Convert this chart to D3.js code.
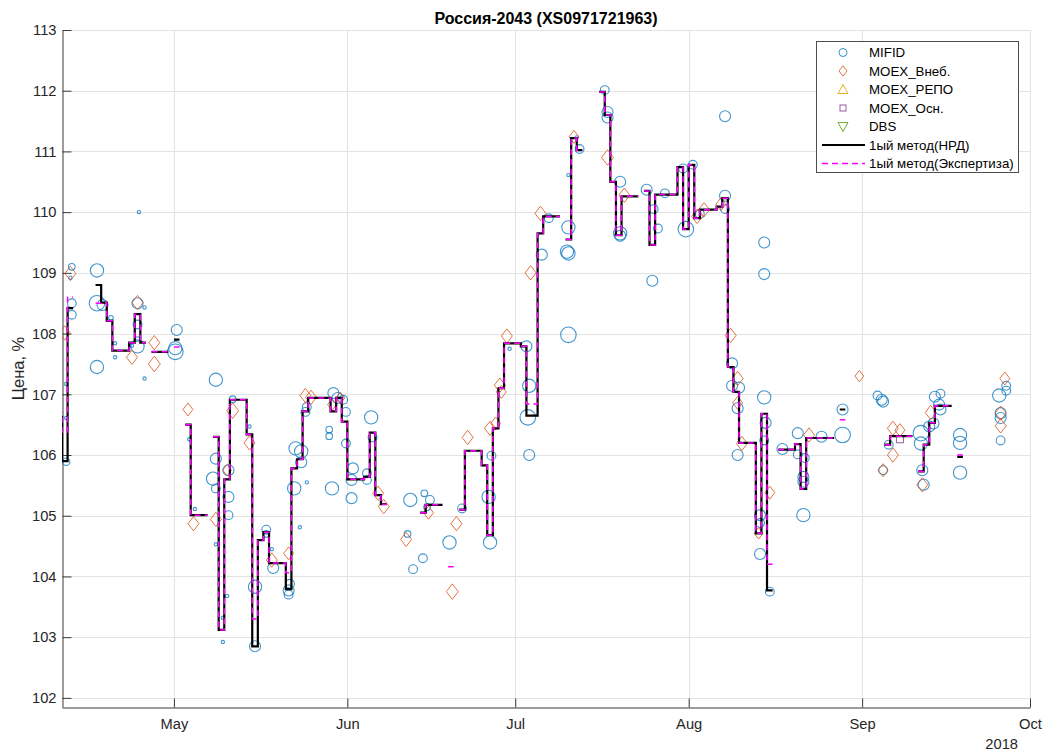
<!DOCTYPE html>
<html>
<head>
<meta charset="utf-8">
<script src="https://d3js.org/d3.v7.min.js"></script>
<style>
  body { margin: 0; background: #fff; }
  svg { font-family: "Liberation Sans", Arial, sans-serif; }
</style>
</head>
<body>
<div id="chart"></div>
<script>
// ---- data ----
var chartTitle = "Россия-2043 (XS0971721963)";
var yTicks = [102, 103, 104, 105, 106, 107, 108, 109, 110, 111, 112, 113];
var seriesNames = ["MIFID", "MOEX_Внеб.", "MOEX_РЕПО", "MOEX_Осн.", "DBS", "1ый метод(НРД)", "1ый метод(Экспертиза)"];

// MIFID trades: time, price, volume
var mifidDates = [
  "2018-04-12 18","2018-04-12 12","2018-04-12 18","2018-04-12 18","2018-04-11 18","2018-04-11 18","2018-04-11 18","2018-04-24 18",
  "2018-04-17 06","2018-04-17 06","2018-04-18 06","2018-04-17 06","2018-04-19 18","2018-04-20 12","2018-04-20 12","2018-04-24 12",
  "2018-04-24 12","2018-04-24 12","2018-04-25 18","2018-04-23 12","2018-04-25 18","2018-04-24 12","2018-05-01 12","2018-05-01 06",
  "2018-05-01 06","2018-05-08 12","2018-05-11 12","2018-05-03 18","2018-05-04 18","2018-05-08 12","2018-05-08 00","2018-05-08 12",
  "2018-05-10 18","2018-05-10 18","2018-05-10 18","2018-05-08 12","2018-05-10 12","2018-05-09 18","2018-05-09 18","2018-05-14 12",
  "2018-05-15 12","2018-05-15 12","2018-05-17 12","2018-05-17 12","2018-05-18 12","2018-05-18 18","2018-05-21 12","2018-05-21 12",
  "2018-05-21 18","2018-05-23 12","2018-05-22 18","2018-05-23 18","2018-05-22 12","2018-05-23 18","2018-05-24 12","2018-05-24 18",
  "2018-05-24 18","2018-05-28 18","2018-05-28 18","2018-05-29 06","2018-05-29 12","2018-05-30 06","2018-05-31 06","2018-05-31 18",
  "2018-05-31 18","2018-06-02 00","2018-06-01 18","2018-06-01 18","2018-06-04 12","2018-06-04 12","2018-06-05 06","2018-06-05 12",
  "2018-06-12 06","2018-06-14 18","2018-06-15 18","2018-06-15 06","2018-06-21 12","2018-06-11 18","2018-06-14 12","2018-06-12 18",
  "2018-06-19 06","2018-06-26 12","2018-06-26 06","2018-06-26 18","2018-06-30 00","2018-07-03 00","2018-07-03 12","2018-07-03 06",
  "2018-07-03 12","2018-07-10 12","2018-07-10 12","2018-07-10 06","2018-07-05 18","2018-07-25 12","2018-07-17 00","2018-07-17 12",
  "2018-07-17 12","2018-07-12 12","2018-07-12 00","2018-07-10 12","2018-07-07 00","2018-07-10 12","2018-07-19 18","2018-07-19 18",
  "2018-07-19 18","2018-07-24 12","2018-07-25 18","2018-07-26 12","2018-07-27 18","2018-07-31 00","2018-08-01 18","2018-07-31 12",
  "2018-08-07 12","2018-08-07 12","2018-08-07 12","2018-08-03 00","2018-08-14 12","2018-08-14 12","2018-08-08 18","2018-08-08 18",
  "2018-08-10 00","2018-08-09 18","2018-08-09 18","2018-08-14 12","2018-08-14 18","2018-08-14 12","2018-08-17 18","2018-08-20 12",
  "2018-08-20 12","2018-08-21 18","2018-08-21 12","2018-08-21 12","2018-08-24 18","2018-08-28 12","2018-08-28 12","2018-09-03 18",
  "2018-09-04 12","2018-09-04 18","2018-09-05 18","2018-09-04 18","2018-09-11 12","2018-09-11 12","2018-09-13 00","2018-09-11 18",
  "2018-09-12 00","2018-09-14 00","2018-09-15 00","2018-09-14 18","2018-09-15 00","2018-09-13 18","2018-09-18 12","2018-09-18 12",
  "2018-09-18 12","2018-09-25 12","2018-09-26 18","2018-09-26 18","2018-09-25 18","2018-09-25 18","2018-09-25 18","2018-08-13 18",
  "2018-08-13 18","2018-08-13 18","2018-08-15 12","2018-08-21 12"
];
var mifidPrices = [
  109.10,108.92,108.50,108.31,105.89,106.61,107.17,110.00,109.04,108.50,108.47,107.45,108.26,107.84,107.61,108.50,
  108.15,107.79,108.43,107.80,107.26,107.91,108.06,107.70,107.76,107.24,106.92,106.26,105.11,105.94,105.61,105.45,
  105.75,105.31,105.01,104.53,103.68,103.32,102.92,106.47,103.83,102.85,104.77,104.70,104.45,104.14,103.77,103.70,
  103.88,104.81,106.11,106.06,105.45,105.88,106.71,106.79,105.55,106.42,106.31,105.45,107.02,106.94,106.91,106.71,
  106.19,105.78,105.59,105.29,105.70,105.59,106.62,106.29,105.26,105.37,105.26,105.14,105.12,104.70,104.30,104.12,
  104.56,104.56,105.31,105.99,107.75,107.79,107.14,106.62,106.00,107.98,109.32,109.35,109.30,108.87,112.01,111.65,
  111.56,111.04,111.23,110.61,109.90,109.75,110.50,109.65,109.61,110.37,110.05,109.73,110.31,110.72,110.78,109.72,
  111.58,110.27,110.05,109.97,109.50,108.98,107.51,107.14,107.11,106.77,106.00,106.95,106.53,106.24,106.10,106.36,
  106.01,105.95,105.64,105.56,106.30,106.33,106.75,106.98,106.91,106.88,106.17,105.75,106.36,106.19,106.47,105.75,
  105.51,106.96,107.01,106.83,106.75,106.52,106.33,106.20,105.71,106.98,107.14,107.06,106.69,106.61,106.24,105.01,
  104.88,104.37,103.75,105.01
];
var mifidVolumes = [
  4,1,7,7,5,1,1,1,16,22,11,16,2,1,1,11,
  7,16,1,1,1,2,11,22,16,16,4,1,1,11,16,7,
  11,11,7,1,1,1,1,1,16,11,7,4,1,11,11,7,
  7,1,16,16,16,11,7,7,1,4,4,16,11,11,7,7,
  7,11,11,11,7,7,16,7,16,4,7,4,7,4,7,7,
  16,16,16,7,1,11,16,22,11,22,16,16,11,11,7,11,
  11,7,1,1,7,16,11,16,11,11,7,7,7,7,7,22,
  11,11,7,7,11,11,11,11,11,11,11,16,11,7,11,11,
  7,7,11,11,11,22,11,7,11,11,7,7,22,16,11,11,
  11,11,7,11,11,11,16,16,16,16,7,7,11,11,7,11,
  7,11,7,16
];

// MOEX off-exchange trades
var moexDates = [
  "2018-04-12 12","2018-04-11 12","2018-04-24 12","2018-04-23 12","2018-04-27 12","2018-04-27 12","2018-05-03 12","2018-05-04 12",
  "2018-05-08 12","2018-05-11 12","2018-05-14 12","2018-05-10 12","2018-05-18 12","2018-05-21 12","2018-05-24 12","2018-05-25 12",
  "2018-05-29 06","2018-05-30 18","2018-06-06 12","2018-06-07 12","2018-06-11 12","2018-06-15 12","2018-06-20 12","2018-06-19 18",
  "2018-06-22 12","2018-06-26 12","2018-06-27 12","2018-06-28 06","2018-06-28 12","2018-06-29 12","2018-07-03 18","2018-07-05 12",
  "2018-07-11 12","2018-07-17 12","2018-07-20 12","2018-08-02 12","2018-08-03 18","2018-08-06 18","2018-08-08 12","2018-08-09 18",
  "2018-08-09 18","2018-08-10 12","2018-08-13 12","2018-08-15 12","2018-08-22 12","2018-08-31 12","2018-09-06 12","2018-09-07 18",
  "2018-09-06 12","2018-09-04 18","2018-09-11 18","2018-09-13 06","2018-09-25 18","2018-09-25 18","2018-09-26 12"
];
var moexPrices = [
  108.99,108.01,108.51,107.61,107.85,107.50,106.75,104.87,104.94,106.73,106.20,105.75,104.27,104.38,106.98,106.95,
  106.83,106.94,105.37,105.15,104.61,105.05,104.87,103.75,106.29,106.44,106.52,107.15,107.04,107.96,109.00,109.98,
  111.24,110.90,110.28,109.93,110.04,110.13,107.97,107.26,106.86,106.19,104.71,105.38,106.33,107.30,106.44,106.41,
  106.00,105.75,105.51,106.70,106.69,106.48,107.26
];
var moexVolumes = [
  11,11,11,11,11,13,9,11,11,13,11,7,11,9,11,11,
  7,7,11,11,11,9,11,13,11,11,9,11,9,11,11,11,
  9,13,11,11,11,9,11,11,9,11,7,9,11,7,11,9,
  11,9,11,11,11,11,9
];

// MOEX main board
var mainDates = ["2018-09-07 18"];
var mainPrices = [106.26];

// 1st method fair price (stairs), null = no value
var methodDates = [
  "2018-04-10","2018-04-11","2018-04-12","2018-04-13",
  "2018-04-17","2018-04-18","2018-04-19","2018-04-20","2018-04-23","2018-04-24","2018-04-25","2018-04-26",
  "2018-04-27","2018-04-30","2018-05-01","2018-05-02","2018-05-03","2018-05-04","2018-05-07",
  "2018-05-08","2018-05-09","2018-05-10","2018-05-11","2018-05-14","2018-05-15","2018-05-16","2018-05-17","2018-05-18",
  "2018-05-21","2018-05-22","2018-05-23","2018-05-24","2018-05-25","2018-05-29","2018-05-30","2018-05-31",
  "2018-06-01","2018-06-04","2018-06-05","2018-06-06","2018-06-07","2018-06-08",
  "2018-06-14","2018-06-15","2018-06-18","2018-06-19","2018-06-20",
  "2018-06-21","2018-06-22","2018-06-25","2018-06-26","2018-06-27","2018-06-28","2018-06-29","2018-07-02","2018-07-03",
  "2018-07-05","2018-07-06","2018-07-09","2018-07-10","2018-07-11","2018-07-12","2018-07-13",
  "2018-07-16","2018-07-17","2018-07-18","2018-07-19","2018-07-20","2018-07-23",
  "2018-07-24","2018-07-25","2018-07-26","2018-07-30","2018-07-31","2018-08-01","2018-08-02","2018-08-03","2018-08-06",
  "2018-08-07","2018-08-08","2018-08-09","2018-08-10","2018-08-13","2018-08-14","2018-08-15","2018-08-16",
  "2018-08-17","2018-08-20","2018-08-21","2018-08-22","2018-08-27","2018-08-28","2018-08-29",
  "2018-09-05","2018-09-06","2018-09-10","2018-09-11","2018-09-12","2018-09-13","2018-09-14","2018-09-17",
  "2018-09-18","2018-09-19"
];
var nrdValues = [
  106.63,105.90,108.42,null,
  108.80,108.51,108.21,107.72,107.85,108.32,107.85,null,
  107.70,null,107.90,null,106.50,105.01,null,
  106.30,103.12,105.60,106.91,106.34,102.85,104.60,104.73,104.22,
  103.79,105.78,105.93,106.72,106.94,106.72,106.94,106.55,
  105.60,105.64,106.37,105.34,105.19,null,
  105.05,105.18,null,null,null,
  105.10,106.07,105.83,104.68,106.44,107.10,107.84,107.79,106.65,
  109.65,109.93,null,109.55,111.22,111.02,null,
  111.98,111.60,110.50,109.62,110.26,null,
  110.35,109.46,110.29,110.74,109.72,110.78,109.90,110.04,110.09,
  110.23,107.45,107.04,106.20,104.71,106.68,103.77,null,
  106.09,106.18,105.44,106.28,null,106.75,null,
  106.17,106.31,null,105.73,106.17,106.53,106.81,null,
  105.97,null
];
var expertValues = [
  106.70,106.38,108.60,null,
  108.50,108.51,108.21,107.72,107.85,108.32,107.85,null,
  107.70,null,107.78,null,106.50,105.01,null,
  106.30,103.12,105.60,106.91,106.34,103.30,104.60,104.73,104.22,
  104.06,105.78,105.93,106.72,106.94,106.72,106.94,106.55,
  105.60,105.64,106.37,105.34,105.19,null,
  105.05,105.18,null,104.16,null,
  105.10,106.07,105.83,104.68,106.44,107.10,107.84,107.79,106.84,
  109.65,109.93,null,109.55,111.22,111.02,null,
  111.98,111.60,110.50,109.62,110.26,null,
  110.35,109.46,110.29,110.74,109.72,110.78,109.90,110.04,110.09,
  110.23,107.45,107.04,106.20,104.71,106.68,104.20,null,
  106.09,106.18,105.44,106.28,null,106.58,null,
  106.17,106.31,null,105.73,106.17,106.53,106.81,null,
  106.00,null
];

// ---- chart setup ----
var svgWidth = 1051;
var svgHeight = 754;
var margin = { top: 30, right: 21, bottom: 47, left: 62 };
var width = svgWidth - margin.left - margin.right;
var height = svgHeight - margin.top - margin.bottom;

var parseTime = d3.timeParse("%Y-%m-%d %H");
var parseDay = d3.timeParse("%Y-%m-%d");

var svg = d3.select("#chart").append("svg")
  .attr("width", svgWidth)
  .attr("height", svgHeight);

var chartGroup = svg.append("g")
  .attr("transform", `translate(${margin.left}, ${margin.top})`);

var xScale = d3.scaleTime()
  .domain([parseDay("2018-04-11"), parseDay("2018-10-01")])
  .range([0, width]);
var yScale = d3.scaleLinear()
  .domain([101.85, 113])
  .range([height, 0]);
var sizeScale = d3.scaleSqrt().domain([0, 25]).range([0, 8.3]);

var monthTicks = xScale.ticks(d3.timeMonth.every(1));

// grid
var grid = chartGroup.append("g").attr("class", "grid");
grid.selectAll("line.gx").data(monthTicks).enter().append("line")
  .attr("x1", d => Math.round(xScale(d)) + 0.5).attr("x2", d => Math.round(xScale(d)) + 0.5)
  .attr("y1", 0).attr("y2", height)
  .attr("stroke", "#e3e3e3");
grid.selectAll("line.gy").data(yTicks).enter().append("line")
  .attr("x1", 0).attr("x2", width)
  .attr("y1", d => Math.round(yScale(d)) + 0.5).attr("y2", d => Math.round(yScale(d)) + 0.5)
  .attr("stroke", "#e3e3e3");

// axes
var bottomAxis = d3.axisBottom(xScale).tickValues(monthTicks)
  .tickFormat(d3.timeFormat("%b")).tickSizeInner(-9).tickSizeOuter(0).tickPadding(11);
var leftAxis = d3.axisLeft(yScale).tickValues(yTicks)
  .tickSizeInner(-9).tickSizeOuter(0).tickPadding(6);

var xAxisG = chartGroup.append("g").attr("transform", `translate(0, ${height + 0.5})`).call(bottomAxis);
var yAxisG = chartGroup.append("g").attr("transform", "translate(0.5, 0)").call(leftAxis);
[xAxisG, yAxisG].forEach(function(g) {
  g.selectAll("path, line").attr("stroke", "#3a3a3a");
  g.selectAll("text").attr("fill", "#262626").attr("font-size", "14.7px")
    .attr("font-family", "'Liberation Sans', Arial, sans-serif");
});

chartGroup.append("text")
  .attr("x", width - 12).attr("y", height + 42)
  .attr("text-anchor", "end").attr("font-size", "14.7px").attr("fill", "#262626")
  .text("2018");

// axis label + title
chartGroup.append("text")
  .attr("transform", "rotate(-90)")
  .attr("x", -height / 2).attr("y", -38)
  .attr("text-anchor", "middle").attr("font-size", "16.5px").attr("fill", "#262626")
  .text("Цена, %");

svg.append("text")
  .attr("x", margin.left + width / 2).attr("y", 23.5)
  .attr("text-anchor", "middle").attr("font-size", "16px").attr("font-weight", "bold")
  .attr("fill", "#000")
  .text(chartTitle);

// clip
svg.append("defs").append("clipPath").attr("id", "plotClip")
  .append("rect").attr("width", width).attr("height", height);
var plot = chartGroup.append("g").attr("clip-path", "url(#plotClip)");

function diamondPath(r) {
  var w = r * 1.0, h = r * 1.3;
  return `M0,${-h}L${w},0L0,${h}L${-w},0Z`;
}

// MIFID circles
var mifid = mifidDates.map((d, i) => ({ t: parseTime(d), p: mifidPrices[i], v: mifidVolumes[i] }));
plot.append("g").selectAll("circle").data(mifid).enter().append("circle")
  .attr("cx", d => xScale(d.t))
  .attr("cy", d => yScale(d.p))
  .attr("r", d => sizeScale(d.v))
  .attr("fill", "none")
  .attr("stroke", "#0072BD")
  .attr("stroke-opacity", 0.75)
  .attr("stroke-width", 1.1);

// MOEX off-exchange diamonds
var moex = moexDates.map((d, i) => ({ t: parseTime(d), p: moexPrices[i], v: moexVolumes[i] }));
plot.append("g").selectAll("path").data(moex).enter().append("path")
  .attr("transform", d => `translate(${xScale(d.t)}, ${yScale(d.p)})`)
  .attr("d", d => diamondPath(sizeScale(d.v)))
  .attr("fill", "none")
  .attr("stroke", "#D95319")
  .attr("stroke-opacity", 0.8)
  .attr("stroke-width", 1);

// MOEX main squares
var mainTrades = mainDates.map((d, i) => ({ t: parseTime(d), p: mainPrices[i] }));
plot.append("g").selectAll("rect").data(mainTrades).enter().append("rect")
  .attr("x", d => xScale(d.t) - 3.5).attr("y", d => yScale(d.p) - 3.5)
  .attr("width", 7).attr("height", 7)
  .attr("fill", "none").attr("stroke", "#7E2F8E").attr("stroke-opacity", 0.8);

// stairs lines
function stairPoints(values) {
  var pts = [];
  values.forEach(function(v, i) {
    if (v === null) { pts.push(null); return; }
    pts.push({ t: parseDay(methodDates[i]), p: v });
    if (i + 1 < values.length) pts.push({ t: parseDay(methodDates[i + 1]), p: v });
  });
  return pts;
}
var stairLine = d3.line()
  .defined(d => d !== null)
  .x(d => xScale(d.t))
  .y(d => yScale(d.p));

plot.append("path")
  .attr("d", stairLine(stairPoints(nrdValues)))
  .attr("fill", "none")
  .attr("stroke", "#000")
  .attr("stroke-width", 2.2);

plot.append("path")
  .attr("d", stairLine(stairPoints(expertValues)))
  .attr("fill", "none")
  .attr("stroke", "#FF00FF")
  .attr("stroke-width", 1.5)
  .attr("stroke-dasharray", "6,4");

// legend
var legend = svg.append("g").attr("transform", "translate(816, 41)");
legend.append("rect")
  .attr("x", 0.5).attr("y", 0.5).attr("width", 202).attr("height", 131)
  .attr("fill", "#fff").attr("stroke", "#4d4d4d").attr("stroke-width", 1);

var legendRows = legend.selectAll("g.row").data(seriesNames).enter().append("g")
  .attr("transform", (d, i) => `translate(0, ${11.5 + i * 18.5})`);

legendRows.append("text")
  .attr("x", 53).attr("y", 0).attr("dy", "0.35em")
  .attr("font-size", "13.3px").attr("fill", "#000")
  .text(d => d);

legendRows.each(function(d, i) {
  var row = d3.select(this);
  var cx = 27;
  if (i === 0) {
    row.append("circle").attr("cx", cx).attr("cy", 0).attr("r", 4)
      .attr("fill", "none").attr("stroke", "#0072BD").attr("stroke-opacity", 0.8);
  } else if (i === 1) {
    row.append("path").attr("transform", `translate(${cx},0)`).attr("d", diamondPath(4))
      .attr("fill", "none").attr("stroke", "#D95319").attr("stroke-opacity", 0.8);
  } else if (i === 2) {
    row.append("path").attr("transform", `translate(${cx},0)`).attr("d", "M0,-5L5,4L-5,4Z")
      .attr("fill", "none").attr("stroke", "#EDB120");
  } else if (i === 3) {
    row.append("rect").attr("x", cx - 3).attr("y", -3).attr("width", 6).attr("height", 6)
      .attr("fill", "none").attr("stroke", "#7E2F8E").attr("stroke-opacity", 0.8);
  } else if (i === 4) {
    row.append("path").attr("transform", `translate(${cx},0)`).attr("d", "M0,5L5,-4L-5,-4Z")
      .attr("fill", "none").attr("stroke", "#77AC30");
  } else if (i === 5) {
    row.append("line").attr("x1", 6).attr("x2", 49).attr("y1", 0).attr("y2", 0)
      .attr("stroke", "#000").attr("stroke-width", 2);
  } else {
    row.append("line").attr("x1", 6).attr("x2", 49).attr("y1", 0).attr("y2", 0)
      .attr("stroke", "#FF00FF").attr("stroke-width", 1.5).attr("stroke-dasharray", "6,4");
  }
});
</script>
</body>
</html>
